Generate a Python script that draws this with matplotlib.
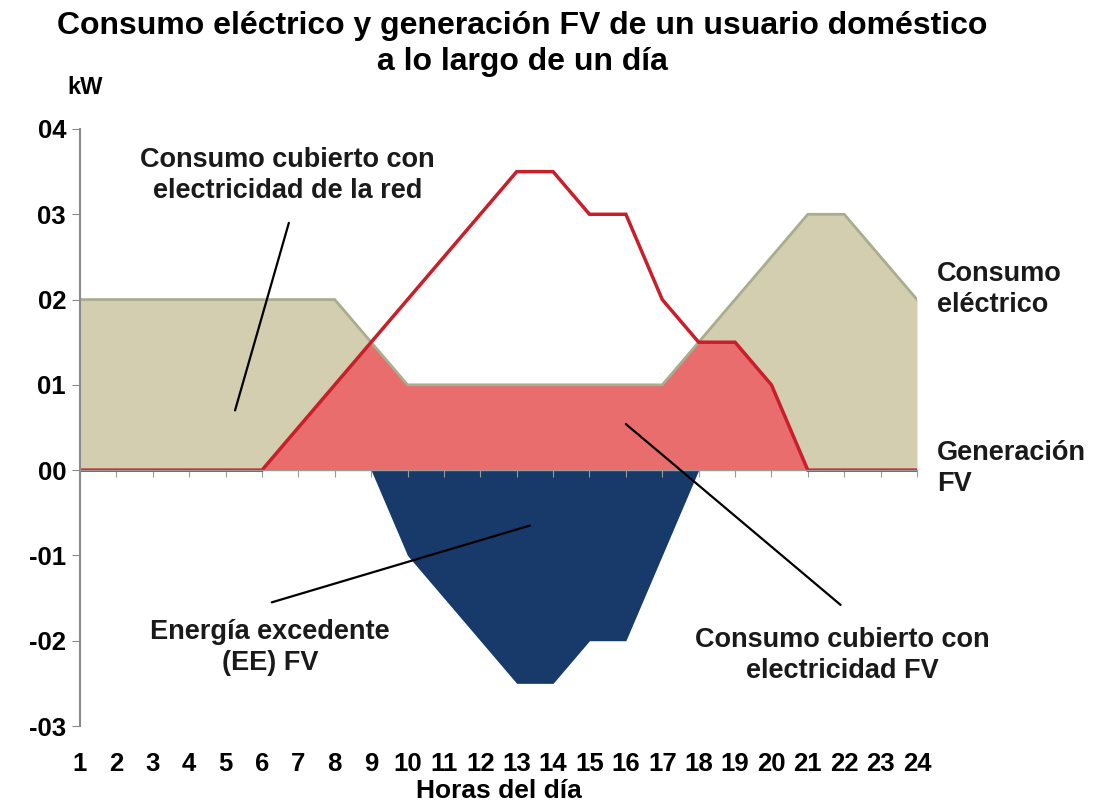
import numpy as np
import matplotlib
matplotlib.use('Agg')
import matplotlib.pyplot as plt
from matplotlib.ticker import FuncFormatter

# datos
horas = np.arange(1, 25)
consumo = np.array([2, 2, 2, 2, 2, 2, 2, 2, 1.5, 1, 1, 1, 1, 1, 1, 1, 1, 1.5, 2, 2.5, 3, 3, 2.5, 2])
generacion = np.array([0, 0, 0, 0, 0, 0, 0.5, 1, 1.5, 2, 2.5, 3, 3.5, 3.5, 3, 3, 2, 1.5, 1.5, 1, 0, 0, 0, 0])
y_ticks = [-3, -2, -1, 0, 1, 2, 3, 4]

cubierto_fv = np.minimum(consumo, generacion)
excedente = np.minimum(consumo - generacion, 0)

plt.rcParams['font.family'] = ['Liberation Sans', 'DejaVu Sans']

fig = plt.figure(figsize=(10.99, 8.08), dpi=100)
ax = fig.add_axes([80 / 1099, 1 - 726 / 808, (917 - 80) / 1099, (726 - 129) / 808])

# areas
ax.fill_between(horas, 0, consumo, color='#d3ceb0', lw=0)
ax.plot(horas, consumo, color='#a9ad8e', lw=2)
ax.fill_between(horas, 0, cubierto_fv, color='#e96d6d', lw=0)
ax.fill_between(horas, excedente, 0, color='#173a6b', lw=0)
ax.plot(horas, generacion, color='#c81f2b', lw=2.5, solid_joinstyle='miter')

ax.set_xlim(1, 24)
ax.set_ylim(-3, 4)

# ejes
for s in ['top', 'right']:
    ax.spines[s].set_visible(False)
ax.spines['left'].set_color('#8a8a8a')
ax.spines['left'].set_linewidth(1.5)
ax.spines['bottom'].set_position(('data', 0))
ax.spines['bottom'].set_color('#9a9a9a')
ax.spines['bottom'].set_linewidth(1)
ax.set_xticks(horas)
ax.tick_params(axis='x', direction='out', length=5, color='#9a9a9a', labelbottom=False)
ax.set_yticks(y_ticks)
ax.yaxis.set_major_formatter(FuncFormatter(lambda v, p: ('-' if v < 0 else '') + '%02d' % abs(v)))
ax.tick_params(axis='y', length=6, color='#8a8a8a', labelsize=18.5, pad=4)
for t in ax.get_yticklabels():
    t.set_fontweight('bold')

sec = ax.secondary_xaxis('bottom')
sec.set_xticks(horas)
sec.set_xticklabels([str(h) for h in horas], fontsize=18.5, fontweight='bold')
sec.tick_params(length=0, pad=19)
sec.spines['bottom'].set_visible(False)
sec.set_xlabel('Horas del día', fontsize=19, fontweight='bold', labelpad=2)

# titulo
fig.text(522 / 1099, 1 - 44 / 808, 'Consumo eléctrico y generación FV de un usuario doméstico\na lo largo de un día',
         ha='center', va='center', fontsize=23, fontweight='bold', linespacing=1.25)
fig.text(85 / 1099, 1 - 88 / 808, 'kW', ha='center', va='center', fontsize=17, fontweight='bold')

# anotaciones
txt = dict(ha='center', va='center', fontsize=19.5, fontweight='bold', color='#1a1a1a', linespacing=1.25)
lin = dict(arrowstyle='-', color='black', lw=1.6, shrinkA=0, shrinkB=0)

ax.text(6.71, 3.46, 'Consumo cubierto con\nelectricidad de la red', **txt)
ax.annotate('', xy=(5.26, 0.70), xytext=(6.74, 2.90), arrowprops=lin)

ax.text(6.22, -2.08, 'Energía excedente\n(EE) FV', **txt)
ax.annotate('', xy=(13.36, -0.65), xytext=(6.27, -1.55), arrowprops=lin)

ax.text(21.96, -2.17, 'Consumo cubierto con\nelectricidad FV', **txt)
ax.annotate('', xy=(21.9, -1.58), xytext=(16.0, 0.54), arrowprops=lin)

ax.text(24.55, 2.12, 'Consumo\neléctrico', ha='left', va='center', fontsize=19.5, fontweight='bold',
        color='#1a1a1a', linespacing=1.25, clip_on=False)
ax.text(24.55, 0.02, 'Generación\nFV', ha='left', va='center', fontsize=19.5, fontweight='bold',
        color='#1a1a1a', linespacing=1.25, clip_on=False)

fig.savefig('out.png', dpi=100)
